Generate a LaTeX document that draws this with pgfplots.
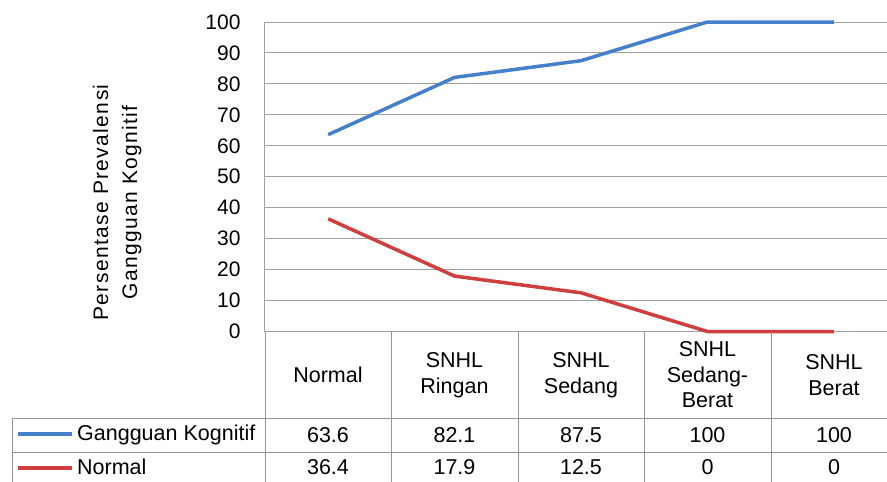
\documentclass[border=0pt]{standalone}
\usepackage{fontspec}
\setmainfont{Liberation Sans}
\usepackage{pgfplots}
\usepackage{pgfplotstable}
\pgfplotsset{compat=1.18}
\definecolor{kblue}{RGB}{68,128,204}
\definecolor{kred}{RGB}{208,62,62}
\definecolor{gridc}{RGB}{160,160,160}
\definecolor{tabc}{RGB}{150,150,150}
\pgfplotstableread{
x y
0 63.6
1 82.1
2 87.5
3 100
4 100
}\kognitif
\pgfplotstableread{
x y
0 36.4
1 17.9
2 12.5
3 0
4 0
}\normal
\newcommand{\fs}{\fontsize{21}{25}\selectfont}
\newcommand{\ft}{\fontsize{21.5}{25.5}\selectfont}
\begin{document}
\begin{tikzpicture}[x=1pt,y=-1pt]
\begin{axis}[
  at={(265pt,-331.5pt)}, anchor=south west,
  width=632pt, height=309.5pt, scale only axis,
  xmin=-0.5, xmax=4.5, ymin=0, ymax=100,
  ytick={0,10,...,100}, xtick=\empty,
  axis x line*=bottom, axis y line*=left,
  axis line style={gridc, line width=1pt, -},
  ymajorgrids, grid style={gridc, line width=1pt},
  major tick length=0pt,
  font=\fs,
  /pgf/number format/assume math mode=true,
  yticklabel style={font=\fs, xshift=-21pt},
  ylabel={Persentase Prevalensi\\Gangguan Kognitif},
  ylabel style={at={(axis description cs:-0.234,0.417)}, anchor=center, rotate=0, align=center, font=\fontsize{21}{29}\selectfont\addfontfeature{LetterSpace=6.5}},
  clip=false,
]
\addplot[kblue, line width=3.5pt] table[x=x,y=y] {\kognitif};
\addplot[kred, line width=3.5pt] table[x=x,y=y] {\normal};
\end{axis}
% data table
\draw[tabc, line width=1pt] (12,418) -- (887,418);
\draw[tabc, line width=1pt] (12,452) -- (887,452);
\draw[tabc, line width=1pt] (12,418) -- (12,490);
\foreach \xx in {265,391,518,644,771} {\draw[tabc, line width=1pt] (\xx,331.5) -- (\xx,490);}
\draw[kblue, line width=3.5pt] (18,434) -- (72,434);
\draw[kred, line width=3.5pt] (18,468) -- (72,468);
\node[anchor=west, font=\ft, inner sep=0pt] at (77,435) {Gangguan Kognitif};
\node[anchor=west, font=\ft, inner sep=0pt] at (77,467) {Normal};
\node[font=\ft, align=center] at (328,375) {Normal};
\node[font=\ft, align=center] at (454.5,375) {SNHL\\Ringan};
\node[font=\ft, align=center] at (581,375) {SNHL\\Sedang};
\node[font=\ft, align=center] at (707.5,375) {SNHL\\Sedang-\\Berat};
\node[font=\ft, align=center] at (834,375) {SNHL\\Berat};
\foreach \xx/\v in {328/63.6,454.5/82.1,581/87.5,707.5/100,834/100} {\node[font=\ft] at (\xx,435) {\v};}
\foreach \xx/\v in {328/36.4,454.5/17.9,581/12.5,707.5/0,834/0} {\node[font=\ft] at (\xx,467) {\v};}
\pgfresetboundingbox
\path[use as bounding box] (0,0) rectangle (887,482);
\end{tikzpicture}
\end{document}
